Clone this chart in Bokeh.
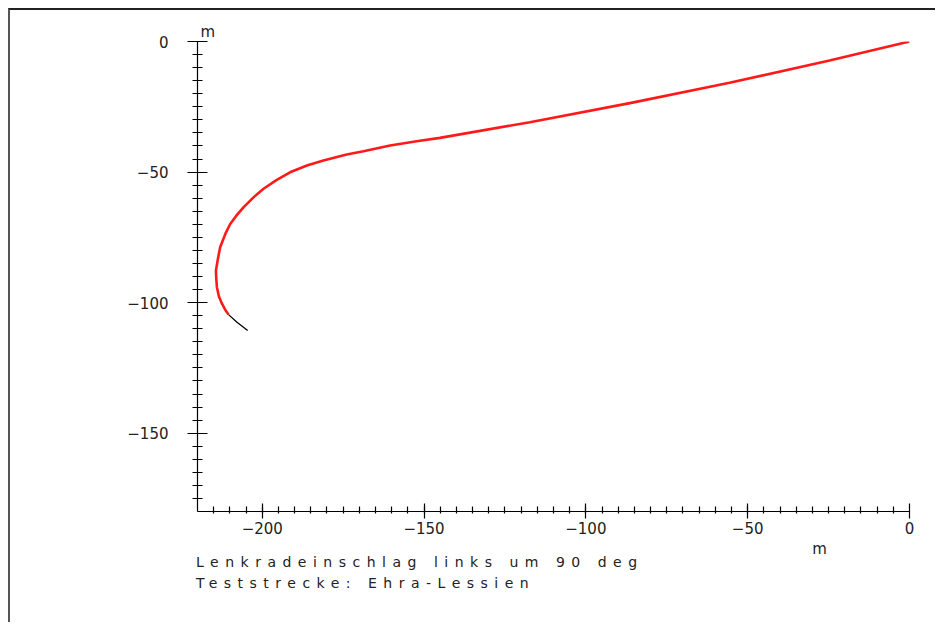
from bokeh.plotting import figure
from bokeh.models import Range1d, FixedTicker, Title, LinearAxis, Div, Column
from bokeh.embed import file_html
from bokeh.resources import INLINE

# --- data (metres) ---
red_x = [0, -24.7, -55.6, -86.4, -117.3, -145.1, -152.3, -160.5, -168.7, -173.9, -181.1,
         -186.2, -191.4, -195.5, -199.6, -202.7, -205.8, -208.0, -209.9, -211.4, -213.0,
         -213.7, -214.3, -214.2, -214.0, -213.4, -212.4, -211.4, -210.4]
red_y = [0, -7.3, -15.8, -23.6, -30.9, -36.9, -38.2, -39.8, -42.0, -43.3, -45.6,
         -47.5, -50.1, -53.0, -56.4, -59.7, -63.5, -66.7, -69.9, -73.7, -78.8,
         -83.3, -87.7, -90.9, -94.1, -97.6, -100.5, -102.8, -104.6]
black_x = [-210.4, -207.8, -204.5]
black_y = [-104.6, -107.5, -110.7]

x_major = [-200, -150, -100, -50, 0]
x_minor = list(range(-215, 0, 5))
y_major = [0, -50, -100, -150]
y_minor = list(range(-175, 0, 5))
x_labels = {-200: "\u2212200", -150: "\u2212150", -100: "\u2212100", -50: "\u221250", 0: "0"}
y_labels = {0: "0", -50: "\u221250", -100: "\u2212100", -150: "\u2212150"}
unit = "m"
caption1 = "Lenkradeinschlag links um 90 deg"
caption2 = "Teststrecke: Ehra-Lessien"

FONT = "DejaVu Sans"
X_UNIT_POS = -27.8   # where the x unit label sits along the x axis

p = figure(width=925, height=550, output_backend="svg", toolbar_location=None,
           x_range=Range1d(-220, 0), y_range=Range1d(-180, 0),
           min_border_left=187, min_border_right=26, min_border_top=31, min_border_bottom=49,
           background_fill_color="white", border_fill_color="white")
p.outline_line_color = None
p.grid.visible = False

for ax, major, minor, labels in ((p.xaxis[0], x_major, x_minor, x_labels),
                                 (p.yaxis[0], y_major, y_minor, y_labels)):
    ax.ticker = FixedTicker(ticks=major, minor_ticks=minor)
    ax.major_label_overrides = labels
    ax.axis_line_color = "black"
    ax.axis_line_width = 1.2
    ax.major_tick_line_color = "black"
    ax.minor_tick_line_color = "black"
    ax.major_tick_line_width = 1.2
    ax.minor_tick_line_width = 1.2
    ax.major_label_text_font = FONT
    ax.major_label_text_font_size = "15px"
    ax.major_label_text_color = "#222"

p.xaxis.major_tick_in = 8
p.xaxis.major_tick_out = 7
p.xaxis.minor_tick_in = 5
p.xaxis.minor_tick_out = 2
p.xaxis.major_label_standoff = 3

p.yaxis.major_tick_in = 10
p.yaxis.major_tick_out = 10
p.yaxis.minor_tick_in = 5
p.yaxis.minor_tick_out = 5
p.yaxis.major_label_standoff = 19

# x unit label, placed as a label-only axis under the main x axis
unit_axis = LinearAxis(ticker=FixedTicker(ticks=[X_UNIT_POS], minor_ticks=[]),
                       major_label_overrides={X_UNIT_POS: unit},
                       axis_line_color=None, major_tick_line_color=None,
                       minor_tick_line_color=None, major_tick_out=0, major_tick_in=0,
                       major_label_standoff=3, major_label_text_font=FONT,
                       major_label_text_font_size="15px", major_label_text_color="#222")
p.add_layout(unit_axis, "below")

p.add_layout(Title(text=unit, align="left", offset=3, text_font=FONT,
                   text_font_size="15px", text_font_style="normal",
                   text_color="#222", standoff=2), "above")

p.line(red_x, red_y, line_color="#ff1a1a", line_width=2.6)
p.line(black_x, black_y, line_color="black", line_width=1.3)

caption = Div(text=f"{caption1}<br>{caption2}", width=620, height=70,
              margin=(-8, 0, 0, 186),
              styles={"font-family": FONT, "font-size": "14px", "letter-spacing": "6.5px",
                      "line-height": "21px", "color": "#222"})

layout = Column(p, caption, margin=(8, 0, 0, 8),
                styles={"border-top": "2px solid #222", "border-left": "2px solid #555"})

open("out.html", "w").write(file_html(layout, INLINE))
